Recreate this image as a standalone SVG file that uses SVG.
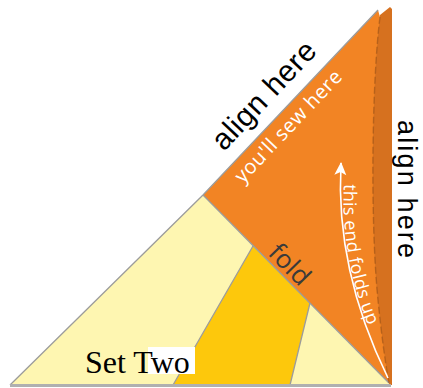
<svg xmlns="http://www.w3.org/2000/svg" width="423" height="388" viewBox="0 0 423 388">
<style>
.edge{fill:none;stroke:#9c9c9c;stroke-width:1.3}
.sans{font-family:"Liberation Sans",Arial,sans-serif;fill:#000}
.ui{font-family:"Open Sans","DejaVu Sans",sans-serif}
</style>
<defs>
<marker id="ah" markerUnits="userSpaceOnUse" markerWidth="16" markerHeight="16" refX="0" refY="0" viewBox="-14 -8 16 16" orient="auto">
<path d="M1,0 L-12,-6 L-9,0 L-12,6 Z" fill="#fff"/>
</marker>
<path id="tp" d="M344,184 Q339,280 392,376"/>
</defs>
<rect width="423" height="388" fill="#fff"/>
<g id="pieces">
<path id="strip" d="M372,60 L380,15 L390,7 L392,9 L392,385 L376,385 L368,200 Z" fill="#d6711f"/>
<path id="orange" d="M203,195 L378,10 L380,17 C372,80 370,220 378,300 Q383,350 389,383 Z" fill="#f28424"/>
<path id="yellow" d="M10,385 L203,195 L389,383 L389,385 Z" fill="#fef6b1"/>
<path id="gold" d="M253,246 L310,303 L290,385 L173,385 Z" fill="#fdc80c"/>
</g>
<g id="lines">
<path class="edge" d="M10,385 L203,195 L378,10"/>
<path class="edge" d="M203,195 L389,383"/>
<path class="edge" d="M253,246 L173,385 M310,303 L290,385"/>
<path d="M380,17 C372,80 370,220 378,300 Q383,350 389,383" stroke="#9a5218" stroke-width="1.4" fill="none" stroke-dasharray="7 3" opacity="0.6"/>
<line x1="10" y1="385.5" x2="391" y2="385.5" stroke="#b0b0b0" stroke-width="3"/>
</g>
<g id="labels">
<text class="sans" font-size="30" transform="translate(224,152) rotate(-46.6)" textLength="137" lengthAdjust="spacing">align here</text>
<text class="sans" font-size="27" transform="translate(398,120) rotate(90)" textLength="138" lengthAdjust="spacing">align here</text>
<text class="ui" fill="#fff" font-size="20" transform="translate(243,184) rotate(-46.6)" textLength="146" lengthAdjust="spacing">you'll sew here</text>
<text class="ui" fill="#3a3a3a" font-size="26" transform="translate(267,254) rotate(45.6)">fold</text>
<path d="M388,378 Q335,270 341,163" stroke="#fff" stroke-width="1.6" fill="none" marker-end="url(#ah)"/>
<text class="ui" fill="#fff" font-size="18" letter-spacing="0.3"><textPath href="#tp">this end folds up</textPath></text>
<rect x="148" y="347" width="47" height="27" fill="#fff"/>
<text font-family="'Liberation Serif',serif" font-size="32" x="85" y="373" fill="#000">Set Two</text>
</g>
</svg>
